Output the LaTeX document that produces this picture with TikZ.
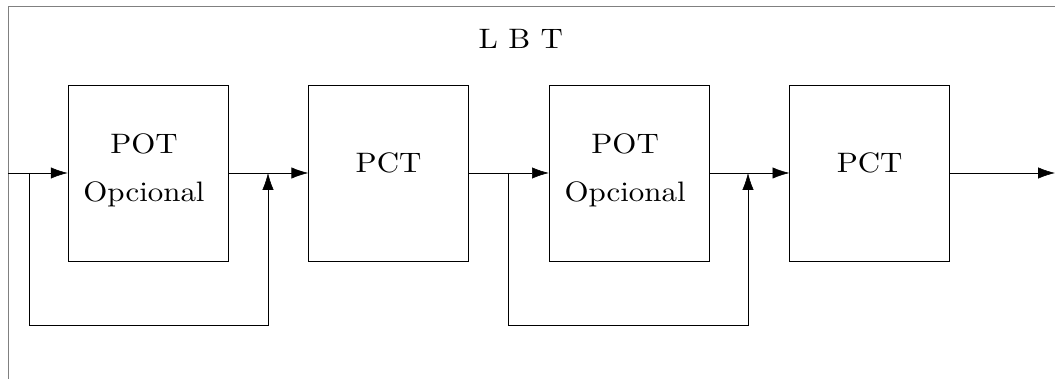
\documentclass[tikz,border=0pt]{standalone}
\usetikzlibrary{arrows.meta,positioning}
\begin{document}
\begin{tikzpicture}[
    blk/.style={draw, minimum width=4cm, minimum height=4.4cm, inner sep=0pt},
    lbl/.style={xscale=2.2, yscale=2.0, align=center},
    flow/.style={-{Latex[length=4.2mm,width=2.8mm]}}
  ]
  \useasboundingbox (0,0) rectangle (26.375,9.475);
  % Frame (top and left edge)
  \draw[gray] (0.2,0) -- (0.2,9.325) -- (26.375,9.325);
  \node[lbl] (lbt) at (13.02,8.5) {L B T};
  % Blocks
  \node[blk] (pot1) at (3.7,5.15) {};
  \node[blk, right=2cm of pot1] (pct1) {};
  \node[blk, right=2cm of pct1] (pot2) {};
  \node[blk, right=2cm of pot2] (pct2) {};
  \node[lbl] (pot1txt) at ([xshift=-0.1cm,yshift=0.06cm]pot1.center) {POT\\[5pt]Opcional};
  \node[lbl] (pct1txt) at ([yshift=0.25cm]pct1.center) {PCT};
  \node[lbl] (pot2txt) at ([xshift=-0.1cm,yshift=0.06cm]pot2.center) {POT\\[5pt]Opcional};
  \node[lbl] (pct2txt) at ([yshift=0.25cm]pct2.center) {PCT};
  % Junctions
  \coordinate (in) at (0.2,5.15);
  \coordinate (out) at (26.375,5.15);
  \coordinate (b1) at (0.725,5.15);
  \coordinate (j1) at (6.7,5.15);
  \coordinate (b2) at (12.7,5.15);
  \coordinate (j2) at (18.7,5.15);
  % Main flow
  \draw[flow] (in) -- (pot1);
  \draw[flow] (pot1) -- (pct1);
  \draw[flow] (pct1) -- (pot2);
  \draw[flow] (pot2) -- (pct2);
  \draw[flow] (pct2) -- (out);
  % Bypass loops
  \draw[flow] (b1) -- ++(0,-3.8) -| (j1);
  \draw[flow] (b2) -- ++(0,-3.8) -| (j2);
\end{tikzpicture}
\end{document}
